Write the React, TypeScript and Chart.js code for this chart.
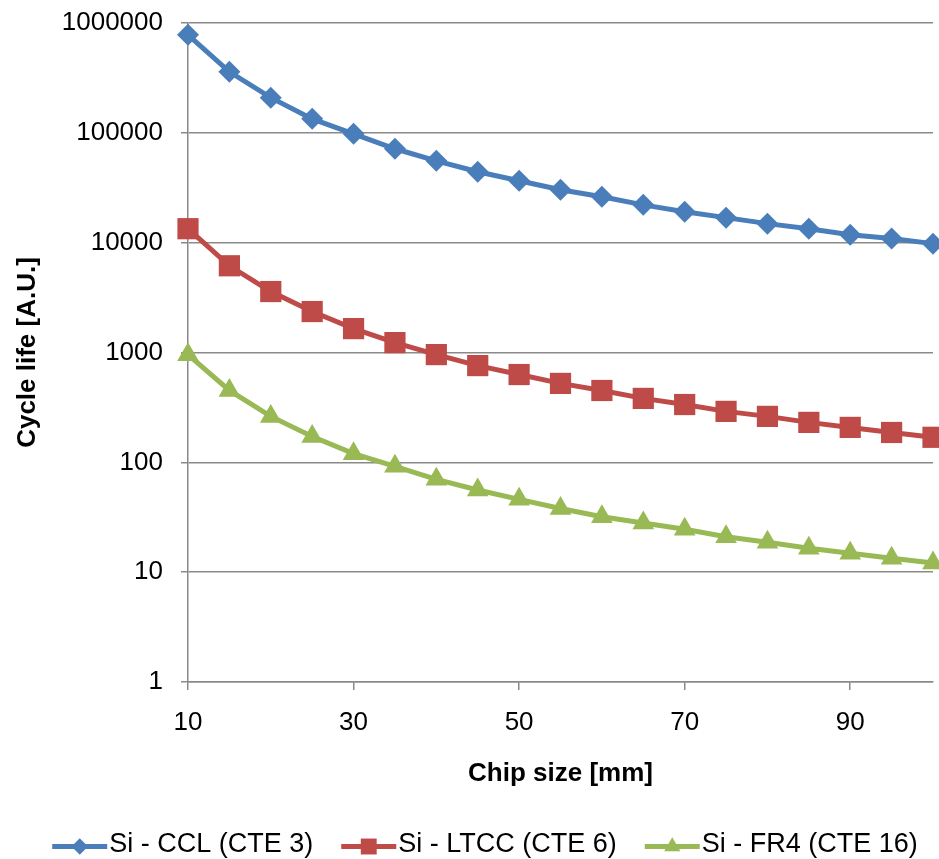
import React, { useEffect, useRef } from "react";
import { Chart, registerables } from "chart.js";

Chart.register(...registerables);

// ---- data ----
const chipSizes = [10, 15, 20, 25, 30, 35, 40, 45, 50, 55, 60, 65, 70, 75, 80, 85, 90, 95, 100];
const ccl = [780000, 359000, 209000, 134000, 98000, 71600, 55600, 44200, 36600, 30300, 26200, 22100, 19100, 16900, 14900, 13400, 11800, 10900, 9800];
const ltcc = [13400, 6160, 3590, 2360, 1650, 1230, 957, 760, 630, 523, 451, 382, 336, 291, 262, 231, 208, 187, 169];
const fr4 = [955, 451, 262, 172, 120, 92, 70, 56, 46, 38, 32, 28, 24.6, 21, 18.7, 16.5, 14.9, 13.4, 12.1];
const seriesLabels = ["Si - CCL (CTE 3)", "Si - LTCC (CTE 6)", "Si - FR4 (CTE 16)"];
const xTickValues = [10, 30, 50, 70, 90];
const yTickValues = [1, 10, 100, 1000, 10000, 100000, 1000000];
const xTitle = "Chip size [mm]";
const yTitle = "Cycle life [A.U.]";

const FONT = "'Liberation Sans', Arial, Helvetica, sans-serif";
const GRID = "#8a8a8a";
const COLORS = ["#4A7EBB", "#BE4B48", "#98B954"];
const STYLES = ["rectRot", "rect", "triangle"];
const RADII = [11, 15, 12.5];

function drawMarker(ctx: CanvasRenderingContext2D, style: string, x: number, y: number, r: number) {
  ctx.beginPath();
  if (style === "rectRot") {
    ctx.moveTo(x - r, y);
    ctx.lineTo(x, y - r);
    ctx.lineTo(x + r, y);
    ctx.lineTo(x, y + r);
  } else if (style === "rect") {
    const s = Math.SQRT1_2 * r;
    ctx.rect(x - s, y - s, 2 * s, 2 * s);
  } else {
    ctx.moveTo(x, y - r);
    ctx.lineTo(x + Math.sin((2 * Math.PI) / 3) * r, y + r / 2);
    ctx.lineTo(x - Math.sin((2 * Math.PI) / 3) * r, y + r / 2);
  }
  ctx.closePath();
  ctx.fill();
}

const legendPlugin = {
  id: "bottomLegend",
  afterDraw(chart: any) {
    const ctx: CanvasRenderingContext2D = chart.ctx;
    const lineW = 55;
    const gapAfterLine = 2;
    const gapBetween = 28;
    const centerX = 485;
    const cy = 845;
    ctx.save();
    ctx.font = `27px ${FONT}`;
    const items = chart.data.datasets.map((ds: any) => ({
      ds,
      tw: ctx.measureText(ds.label).width,
    }));
    const total =
      items.reduce((s: number, it: any) => s + lineW + gapAfterLine + it.tw, 0) +
      gapBetween * (items.length - 1);
    let x = centerX - total / 2;
    items.forEach((it: any) => {
      const c = it.ds.borderColor;
      ctx.strokeStyle = c;
      ctx.fillStyle = c;
      ctx.lineWidth = 5;
      ctx.beginPath();
      ctx.moveTo(x, cy + 1.5);
      ctx.lineTo(x + lineW, cy + 1.5);
      ctx.stroke();
      drawMarker(ctx, it.ds.pointStyle, x + lineW / 2, cy + 1.5, it.ds.pointRadius * 0.75);
      ctx.fillStyle = "#000";
      ctx.textBaseline = "middle";
      ctx.textAlign = "left";
      ctx.fillText(it.ds.label, x + lineW + gapAfterLine, cy);
      x += lineW + gapAfterLine + it.tw + gapBetween;
    });
    ctx.restore();
  },
};

function zeroPadding(scale: any) {
  scale.paddingTop = 0;
  scale.paddingBottom = 0;
  scale.paddingLeft = 0;
  scale.paddingRight = 0;
}

export default function App() {
  const ref = useRef<HTMLCanvasElement | null>(null);
  useEffect(() => {
    if (!ref.current) return;
    const seriesValues = [ccl, ltcc, fr4];
    const chart = new Chart(ref.current, {
      type: "line",
      data: {
        datasets: seriesValues.map((vals, i) => ({
          label: seriesLabels[i],
          data: chipSizes.map((s, j) => ({ x: s, y: vals[j] })),
          borderColor: COLORS[i],
          backgroundColor: COLORS[i],
          pointBackgroundColor: COLORS[i],
          pointBorderColor: COLORS[i],
          pointBorderWidth: 0,
          pointStyle: STYLES[i] as any,
          pointRadius: RADII[i],
          pointHoverRadius: RADII[i],
          borderWidth: 5,
          tension: 0,
          clip: false as any,
        })),
      },
      options: {
        animation: false,
        responsive: false,
        maintainAspectRatio: false,
        layout: { autoPadding: false, padding: { left: 0, right: 6, top: 23, bottom: 60 } },
        plugins: {
          legend: { display: false },
          tooltip: { enabled: false },
        },
        scales: {
          x: {
            type: "linear",
            min: 10,
            max: 100,
            afterBuildTicks: (scale: any) => {
              scale.ticks = xTickValues.map((v) => ({ value: v }));
            },
            afterFit: (scale: any) => {
              scale.height = 117;
              zeroPadding(scale);
            },
            grid: {
              drawOnChartArea: false,
              drawTicks: true,
              tickLength: 8,
              color: GRID,
              lineWidth: 1.5,
            },
            border: { display: true, color: GRID, width: 1.5 },
            ticks: {
              color: "#000",
              font: { family: FONT, size: 26 },
              padding: 17,
              maxRotation: 0,
              autoSkip: false,
              callback: (v: any) => String(v),
            },
            title: {
              display: true,
              text: xTitle,
              color: "#000",
              font: { family: FONT, size: 26, weight: "bold" },
              padding: { top: 0, bottom: 10 },
            },
          },
          y: {
            type: "logarithmic",
            min: 1,
            max: 1000000,
            afterBuildTicks: (scale: any) => {
              scale.ticks = yTickValues.map((v) => ({ value: v }));
            },
            afterFit: (scale: any) => {
              scale.width = 188;
              zeroPadding(scale);
            },
            grid: {
              drawOnChartArea: true,
              drawTicks: true,
              tickLength: 7,
              color: GRID,
              lineWidth: 1.5,
            },
            border: { display: true, color: GRID, width: 1.5 },
            ticks: {
              color: "#000",
              font: { family: FONT, size: 26 },
              padding: 18,
              autoSkip: false,
              callback: (v: any) => String(v),
            },
            title: {
              display: true,
              text: yTitle,
              color: "#000",
              font: { family: FONT, size: 26, weight: "bold" },
              padding: { top: 12, bottom: 0 },
            },
          },
        },
      },
      plugins: [legendPlugin],
    });
    return () => chart.destroy();
  }, []);
  return (
    <div style={{ position: "absolute", left: 0, top: 0, width: 939, height: 859, background: "#fff" }}>
      <canvas ref={ref} width={939} height={859} style={{ display: "block", width: 939, height: 859 }} />
    </div>
  );
}
